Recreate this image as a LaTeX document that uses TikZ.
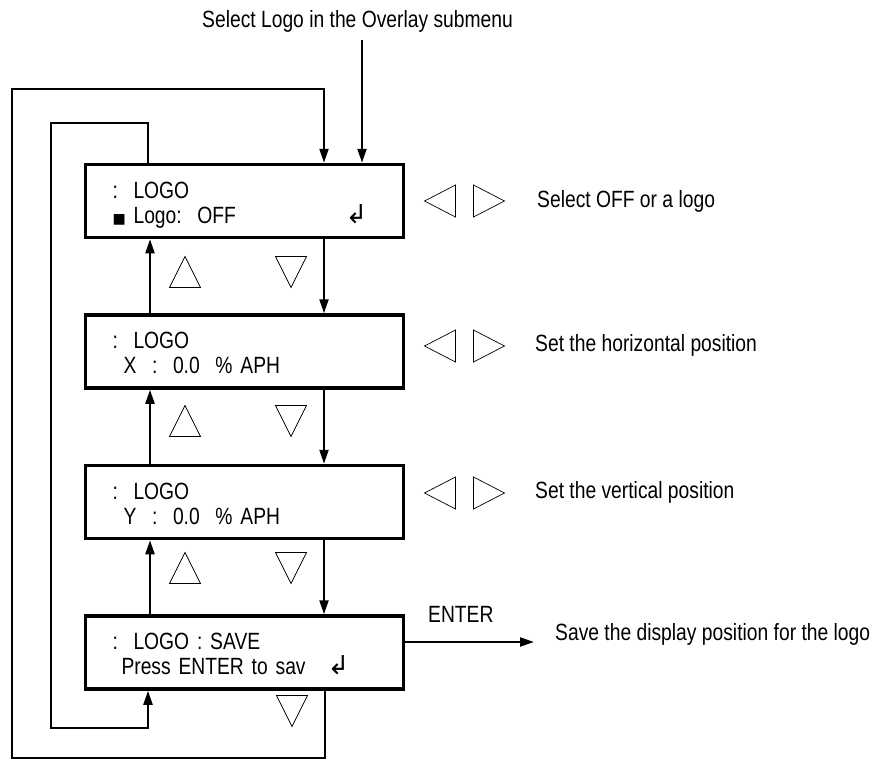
\documentclass[tikz,border=0pt]{standalone}
\usepackage{fontspec}
\setmainfont{Liberation Sans}[FakeStretch=0.82]
\newfontfamily\symfont{DejaVu Sans}
\usetikzlibrary{arrows.meta, positioning}

\tikzset{
  keyup/.pic={\draw[key] (-15.5,15.5) -- (15.5,15.5) -- (0,-15.5) -- cycle;},
  keydown/.pic={\draw[key] (-15.5,-15.5) -- (15.5,-15.5) -- (0,15.5) -- cycle;},
  keyleft/.pic={\draw[key] (15.5,-16) -- (15.5,16) -- (-15.5,0) -- cycle;},
  keyright/.pic={\draw[key] (-15.5,-16) -- (-15.5,16) -- (15.5,0) -- cycle;}
}

\begin{document}
\begin{tikzpicture}[x=1pt, y=-1pt, font=\fontsize{23.5}{25}\selectfont,
    screen/.style={draw=black, line width=3.5pt, minimum width=318pt, minimum height=73pt,
      inner sep=0pt, text width=264pt, align=left,
      execute at begin node=\rule{0pt}{26.5pt}, execute at end node=\strut},
    flow/.style={line width=2.2pt, -{Triangle[length=14pt, width=9pt]}},
    key/.style={line width=0.7pt},
    note/.style={anchor=base west, inner sep=0pt},
    node distance=74pt]
  \useasboundingbox (0,0) rectangle (884,761);

  % the four screens
  \node[screen] (logo) at (244.5,201) {:\ \ LOGO\\{\symfont\fontsize{14}{14}\selectfont ■}\ Logo:\ \ OFF\hskip 0pt plus 1fill{\symfont\fontsize{26}{26}\selectfont ↲}\kern9pt};
  \node[screen, below=of logo] (hpos) {:\ \ LOGO\\\leavevmode\kern11pt X\ \ :\ \ 0.0\ \ \%\ APH};
  \node[screen, below=of hpos] (vpos) {:\ \ LOGO\\\leavevmode\kern11pt Y\ \ :\ \ 0.0\ \ \%\ APH};
  \node[screen, below=of vpos] (save) {:\ \ LOGO : SAVE\\\leavevmode\kern9pt Press ENTER to sav\hskip 0pt plus 1fill{\symfont\fontsize{26}{26}\selectfont ↲}\kern27pt};

  % texts
  \node[note] (title) at (202,27) {Select Logo in the Overlay submenu};
  \node[note] (logotext) at (537,207) {Select OFF or a logo};
  \node[note] (hpostext) at (535,351) {Set the horizontal position};
  \node[note] (vpostext) at (535,498) {Set the vertical position};
  \node[note] (entertext) at (428,622) {ENTER};
  \node[note] (savetext) at (555,640) {Save the display position for the logo};

  % keys
  \foreach \y in {272,421,568} {
    \pic at (185,\y) {keyup};
    \pic at (291,\y) {keydown};
  }
  \pic at (292,711) {keydown};
  \foreach \y in {201,346,493} {
    \pic at (440,\y) {keyleft};
    \pic at (489,\y) {keyright};
  }

  % connectors
  \coordinate (entry) at (362,40);
  \coordinate (outertop) at (12,89);
  \coordinate (outerbot) at (12,758);
  \coordinate (innertop) at (51,123);
  \coordinate (innerbot) at (51,728);
  \coordinate (saveto) at (534,642);

  \draw[flow] (entry) -- (entry |- logo.north);
  \foreach \a/\b in {logo/hpos, hpos/vpos, vpos/save} {
    \draw[flow] ([xshift=79.5pt]\a.south) -- ([xshift=79.5pt]\b.north);
    \draw[flow] ([xshift=-94.5pt]\b.north) -- ([xshift=-94.5pt]\a.south);
  }
  \draw[flow] ([xshift=80.5pt]save.south) |- (outerbot) -- (outertop) -| ([xshift=79.5pt]logo.north);
  \draw[flow] ([xshift=-96.5pt]logo.north) |- (innertop) -- (innerbot) -| ([xshift=-96.5pt]save.south);
  \draw[flow] (save.east |- saveto) -- (saveto);
\end{tikzpicture}
\end{document}
